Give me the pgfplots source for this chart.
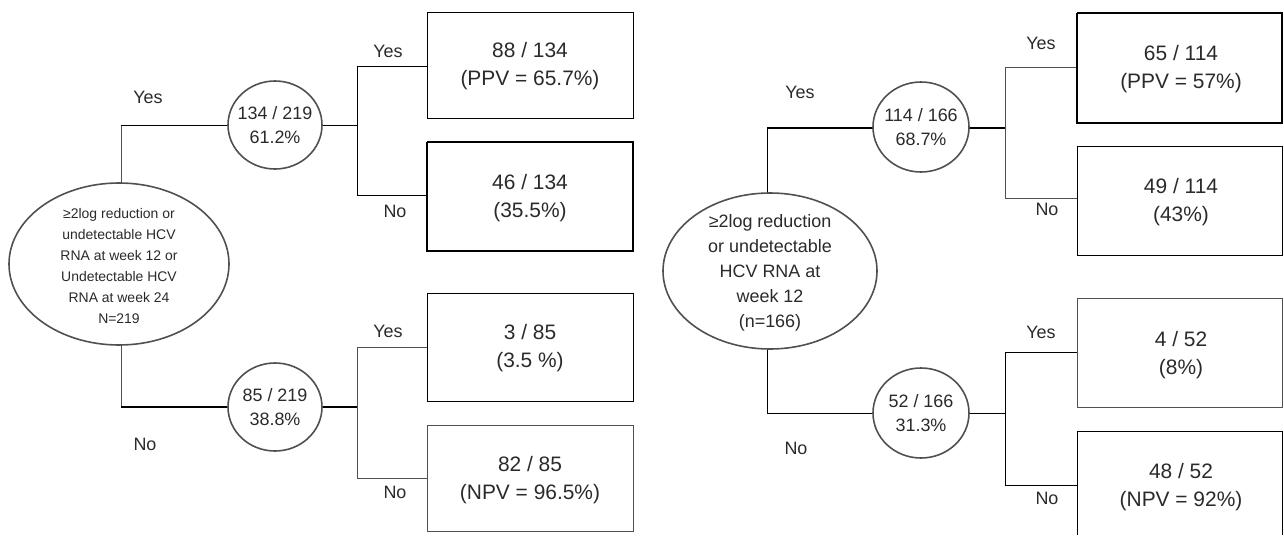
\documentclass[border=0pt]{standalone}
\usepackage{fontspec}
\setmainfont{Liberation Sans}
\usepackage{pgfplots}
\pgfplotsset{compat=1.18}
\usetikzlibrary{shapes.geometric}

\definecolor{ln}{HTML}{505050}
\definecolor{tx}{HTML}{2A2A2A}

\tikzset{
    boxtxt/.style={font=\fontsize{10.5}{14}\selectfont, text=tx, align=center},
    oval/.style={draw=ln, line width=0.8pt, fill=white, ellipse, inner sep=0pt},
    ctxt/.style={font=\fontsize{9}{12}\selectfont, text=tx, align=center},
    lab/.style={font=\fontsize{9}{11}\selectfont, text=tx},
}

% all coordinates in pixel units of the 1284x535 picture
\begin{document}
\begin{tikzpicture}
\begin{axis}[
    scale only axis, width=642bp, height=267.5bp,
    xmin=0, xmax=1284, ymin=0, ymax=535, y dir=reverse,
    hide axis, clip=false,
    cycle list={{draw=ln, solid, line width=0.8pt, mark=none}},
]
\path (axis cs:0,0) rectangle (axis cs:1284,535);
% ---------- left tree ----------
\addplot coordinates {(121,125) (121,407)};
\addplot coordinates {(121,125) (357,125)};
\addplot coordinates {(121,407) (357,407)};
\addplot coordinates {(427,66) (357,66) (357,195) (427,195)};
\addplot coordinates {(427,347) (357,347) (357,478) (427,478)};
\addplot coordinates {(427,12) (633,12) (633,118) (427,118) (427,12)};
\addplot coordinates {(427,142) (633,142) (633,251) (427,251) (427,142)};
\addplot coordinates {(427,293) (633,293) (633,401) (427,401) (427,293)};
\addplot coordinates {(427,425) (633,425) (633,531) (427,531) (427,425)};

\node[oval, minimum width=110bp, minimum height=81bp] at (axis cs:119,264) {};
\node[font=\fontsize{7}{10.5}\selectfont, text=tx, align=center] at (axis cs:119,266)
  {≥2log reduction or\\undetectable HCV\\RNA at week 12 or\\Undetectable HCV\\RNA at week 24\\N=219};
\node[oval, minimum width=47bp, minimum height=44bp] at (axis cs:275,125) {};
\node[ctxt] at (axis cs:275,125) {134 / 219\\61.2\%};
\node[oval, minimum width=47bp, minimum height=44bp] at (axis cs:275,407) {};
\node[ctxt] at (axis cs:275,407) {85 / 219\\38.8\%};

\node[boxtxt] at (axis cs:530,66) {88 / 134\\(PPV = 65.7\%)};
\node[boxtxt] at (axis cs:530,198) {46 / 134\\(35.5\%)};
\node[boxtxt] at (axis cs:530,348) {3 / 85\\(3.5 \%)};
\node[boxtxt] at (axis cs:530,480) {82 / 85\\(NPV = 96.5\%)};

\node[lab] at (axis cs:148,97) {Yes};
\node[lab] at (axis cs:145,444) {No};
\node[lab] at (axis cs:388,51) {Yes};
\node[lab] at (axis cs:395,211) {No};
\node[lab] at (axis cs:388,331) {Yes};
\node[lab] at (axis cs:395,492) {No};

% ---------- right tree ----------
\addplot coordinates {(767,128) (767,413)};
\addplot coordinates {(767,128) (1005,128)};
\addplot coordinates {(767,413) (1005,413)};
\addplot coordinates {(1077,67) (1005,67) (1005,198) (1077,198)};
\addplot coordinates {(1077,352) (1005,352) (1005,485) (1077,485)};
\addplot coordinates {(1077,13) (1282,13) (1282,123) (1077,123) (1077,13)};
\addplot coordinates {(1077,146) (1282,146) (1282,255) (1077,255) (1077,146)};
\addplot coordinates {(1077,298) (1282,298) (1282,407) (1077,407) (1077,298)};
\addplot coordinates {(1282,535) (1282,431) (1077,431) (1077,535)};

\node[oval, minimum width=107bp, minimum height=78bp] at (axis cs:770,271) {};
\node[font=\fontsize{9}{12.5}\selectfont, text=tx, align=center] at (axis cs:770,273)
  {≥2log reduction\\or undetectable\\HCV RNA at\\week 12\\(n=166)};
\node[oval, minimum width=48bp, minimum height=45bp] at (axis cs:921,127) {};
\node[ctxt] at (axis cs:921,127) {114 / 166\\68.7\%};
\node[oval, minimum width=48bp, minimum height=45bp] at (axis cs:921,413) {};
\node[ctxt] at (axis cs:921,413) {52 / 166\\31.3\%};

\node[boxtxt] at (axis cs:1181,69) {65 / 114\\(PPV = 57\%)};
\node[boxtxt] at (axis cs:1181,202) {49 / 114\\(43\%)};
\node[boxtxt] at (axis cs:1181,355) {4 / 52\\(8\%)};
\node[boxtxt] at (axis cs:1181,487) {48 / 52\\(NPV = 92\%)};

\node[lab] at (axis cs:800,92) {Yes};
\node[lab] at (axis cs:796,448) {No};
\node[lab] at (axis cs:1041,43) {Yes};
\node[lab] at (axis cs:1047,209) {No};
\node[lab] at (axis cs:1041,332) {Yes};
\node[lab] at (axis cs:1047,498) {No};
\end{axis}
\end{tikzpicture}
\end{document}
